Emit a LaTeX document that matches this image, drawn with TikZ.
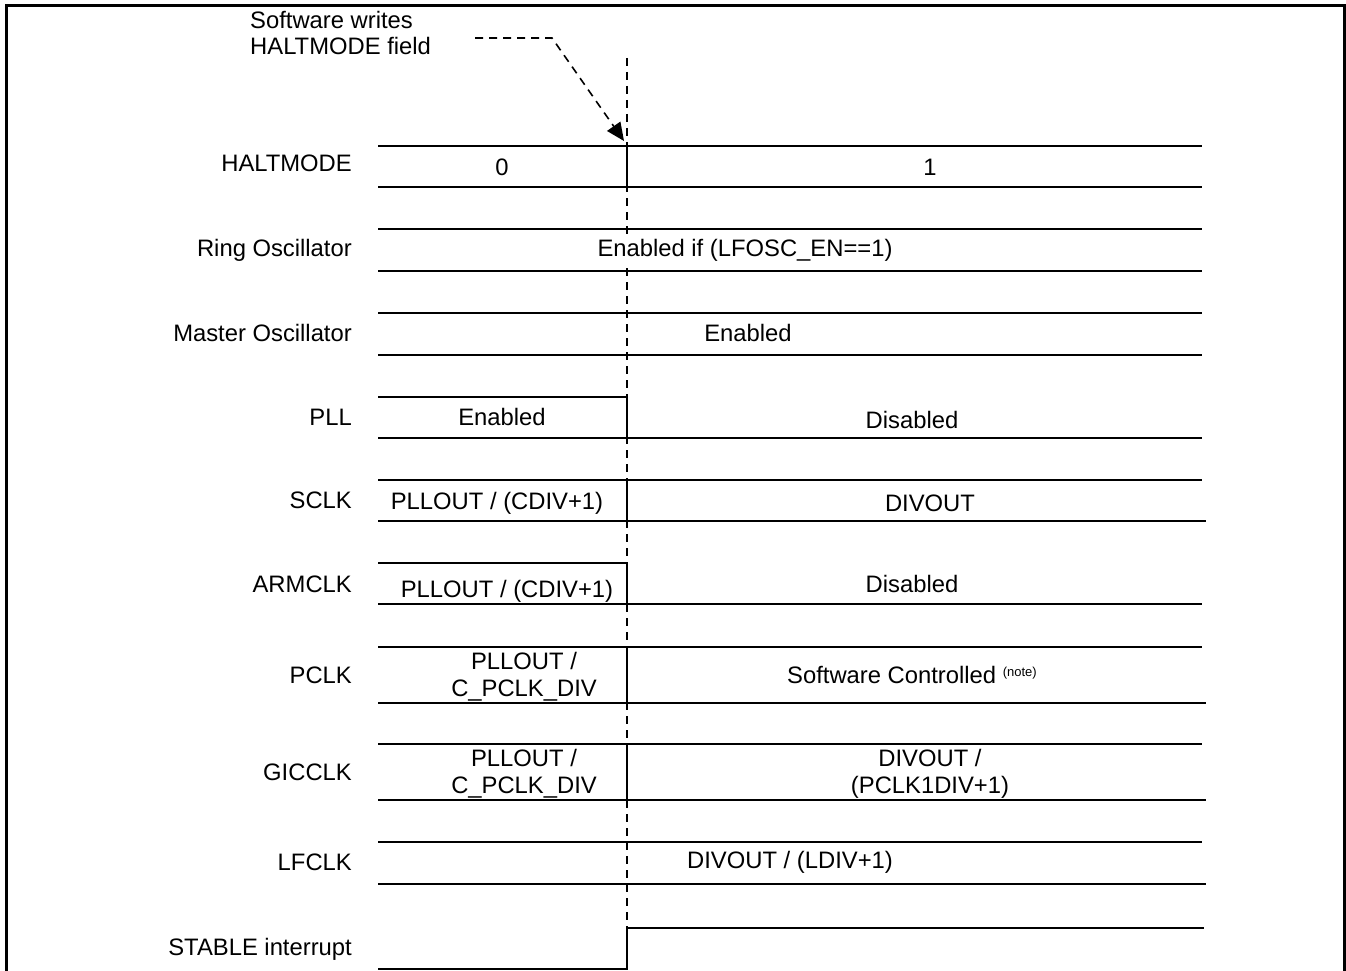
\documentclass[tikz,border=0pt]{standalone}
\usepackage{fontspec}
\setmainfont{Liberation Sans}
\usetikzlibrary{arrows.meta}
\begin{document}
\begin{tikzpicture}[x=1pt,y=-1pt,
  sig/.style={line width=1.8pt,line cap=butt},
  frame/.style={line width=3pt},
  marker/.style={line width=1.7pt,dash pattern=on 8pt off 6pt},
  lbl/.style={anchor=east,inner sep=0pt,font=\fontsize{23.8}{26}\selectfont},
  txt/.style={inner sep=0pt,align=center,font=\fontsize{23.8}{27}\selectfont}]
\useasboundingbox (0,0) rectangle (1346,971);
% frame
\draw[frame] (6,975) -- (6,5.5) -- (1344,5.5) -- (1344,975);
% annotation
\node[inner sep=0pt,anchor=west,align=left,font=\fontsize{23.8}{26}\selectfont] (sw) at (250,33) {Software writes\\HALTMODE field};
\coordinate (a0) at (475,38);
\coordinate (a1) at (552,38);
\coordinate (a2) at (624,141);
\draw[marker,line width=1.6pt,-{Triangle[length=18pt,width=16pt]}] (a0) -- (a1) -- (a2);
% dashed marker line
\coordinate (m0) at (627,58);
\coordinate (m1) at (627,928);
\draw[marker] (m0) -- (m1);
% labels
\node[lbl] (lHALT) at (352,163) {HALTMODE};
\node[lbl] (lRING) at (352,250) {Ring Oscillator};
\node[lbl] (lMOSC) at (352,333) {Master Oscillator};
\node[lbl] (lPLL) at (352,417) {PLL};
\node[lbl] (lSCLK) at (352,500) {SCLK};
\node[lbl] (lARM) at (352,584) {ARMCLK};
\node[lbl] (lPCLK) at (352,675) {PCLK};
\node[lbl] (lGIC) at (352,772) {GICCLK};
\node[lbl] (lLF) at (352,862) {LFCLK};
\node[lbl] (lSTB) at (352,949) {STABLE interrupt};
% HALTMODE
\draw[sig] (378,146) -- (1202,146);
\draw[sig] (378,187) -- (1202,187);
\draw[sig] (627,146) -- (627,187);
\node[txt] (h0) at (502,167) {0};
\node[txt] (h1) at (930,167) {1};
% Ring oscillator
\draw[sig] (378,229) -- (1202,229);
\draw[sig] (378,271) -- (1202,271);
\node[txt,fill=white,inner sep=3pt] (ring) at (745,250) {Enabled if (LFOSC\_EN==1)};
% Master oscillator
\draw[sig] (378,313) -- (1202,313);
\draw[sig] (378,355) -- (1202,355);
\node[txt] (mosc) at (748,333) {Enabled};
% PLL
\draw[sig] (378,397) -- (627,397) -- (627,438);
\draw[sig] (378,438) -- (1202,438);
\node[txt] (pll0) at (502,417) {Enabled};
\node[txt] (pll1) at (912,420) {Disabled};
% SCLK
\draw[sig] (378,480) -- (1202,480);
\draw[sig] (378,521) -- (1206,521);
\draw[sig] (627,480) -- (627,521);
\node[txt] (sc0) at (497,503) {PLLOUT / (CDIV+1)};
\node[txt] (sc1) at (930,503) {DIVOUT};
% ARMCLK
\draw[sig] (378,563) -- (627,563) -- (627,604);
\draw[sig] (378,604) -- (1202,604);
\node[txt] (ar0) at (507,591) {PLLOUT / (CDIV+1)};
\node[txt] (ar1) at (912,584) {Disabled};
% PCLK
\draw[sig] (378,647) -- (1202,647);
\draw[sig] (378,703) -- (1206,703);
\draw[sig] (627,647) -- (627,703);
\node[txt] (pc0) at (524,677) {PLLOUT /\\C\_PCLK\_DIV};
\node[txt] (pc1) at (912,675) {Software Controlled \raisebox{0.55ex}{\fontsize{13}{13}\selectfont (note)}};
% GICCLK
\draw[sig] (378,744) -- (1202,744);
\draw[sig] (378,800) -- (1206,800);
\draw[sig] (627,744) -- (627,800);
\node[txt] (gc0) at (524,774) {PLLOUT /\\C\_PCLK\_DIV};
\node[txt] (gc1) at (930,774) {DIVOUT /\\(PCLK1DIV+1)};
% LFCLK
\draw[sig] (378,842) -- (1202,842);
\draw[sig] (378,884) -- (1206,884);
\node[txt] (lf) at (790,862) {DIVOUT / (LDIV+1)};
% STABLE
\draw[sig] (378,969) -- (627,969) -- (627,928) -- (1204,928);
\end{tikzpicture}
\end{document}
